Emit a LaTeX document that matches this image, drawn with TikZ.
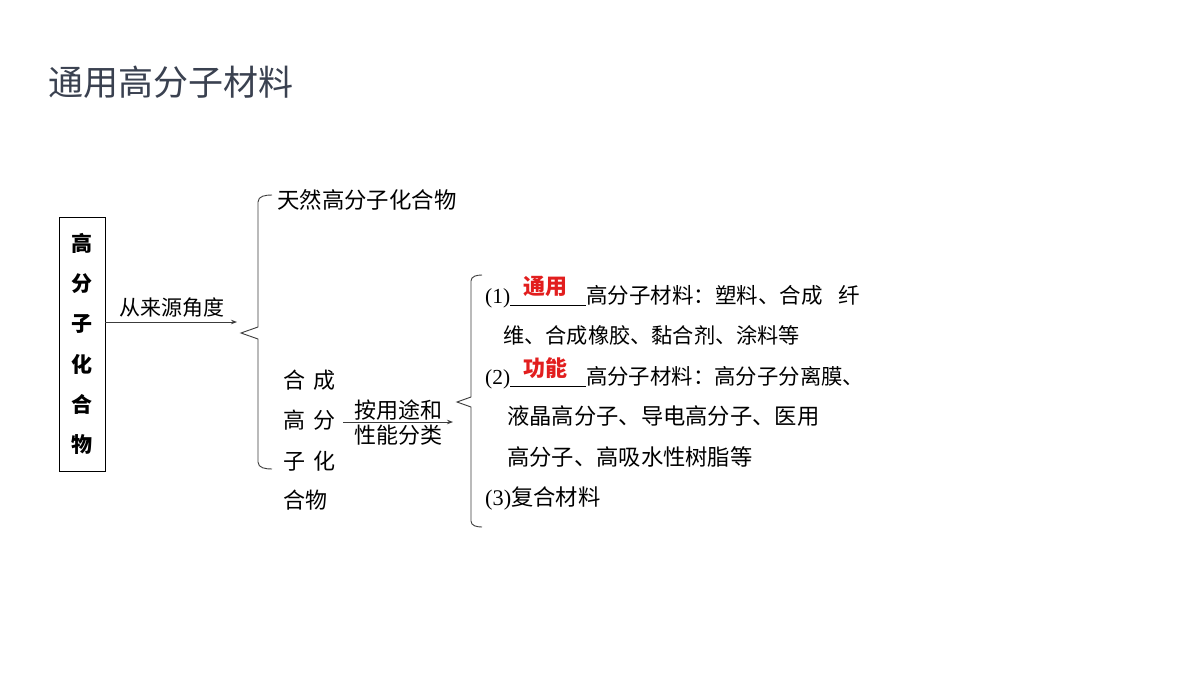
\documentclass[tikz,border=0pt]{standalone}
\usepackage{fontspec}
\setmainfont{Noto Sans CJK SC}
\newfontfamily\ser{Liberation Serif}
\usetikzlibrary{arrows.meta}
\definecolor{titlec}{RGB}{58,65,80}
\definecolor{linec}{RGB}{60,60,60}
\definecolor{redc}{RGB}{226,30,30}
\tikzset{
  txt/.style={anchor=base west, inner sep=0pt, font=\fontsize{22}{22}\selectfont, text=black},
  lbl/.style={inner sep=0pt, font=\fontsize{21}{21}\selectfont, text=black},
  ans/.style={inner sep=0pt, font=\fontsize{22}{22}\selectfont\bfseries, text=redc},
  conn/.style={draw=linec, line width=0.9pt, -{Stealth[length=6pt,width=4.5pt]}},
  brace/.style={draw=linec, line width=0.9pt, line join=miter}
}
\newcommand{\blankline}{\rule[-2.5pt]{76pt}{0.8pt}}
\newcommand{\fs}[1]{\fontsize{#1}{#1}\selectfont}
\begin{document}
\begin{tikzpicture}[x=1pt,y=-1pt]
\useasboundingbox[fill=white] (0,0) rectangle (1200,675);
% title
\node[anchor=base west, inner sep=0pt, font=\fontsize{35}{35}\selectfont, text=titlec] (title) at (48,95) {通用高分子材料};
% box
\node[draw=black, line width=0.9pt, minimum width=46pt, minimum height=254pt, inner sep=0pt, align=center,
      font=\fontsize{21}{40.2}\selectfont\bfseries] (box) at (82,344) {高\\分\\子\\化\\合\\物};
% arrow 1
\coordinate (a1end) at (237,322);
\draw[conn] (box.east |- a1end) -- (a1end);
\node[lbl] (lab1) at (172,308) {从来源角度};
% brace 1
\coordinate (b1top) at (272,195);
\coordinate (b1tip) at (241,333);
\coordinate (b1bot) at (272,469);
\draw[brace] (b1top) to[out=180,in=90] (258,202) -- (258,327) -- (b1tip) -- (258,339) -- (258,462) to[out=270,in=180] (b1bot);
\node[txt, font=\fs{22.4}] (nat) at (277,208) {天然高分子化合物};
\node[txt] (syn1) at (283,388) {合\hspace{8pt}成};
\node[txt] (syn2) at (283,428) {高\hspace{8pt}分};
\node[txt] (syn3) at (283,469) {子\hspace{8pt}化};
\node[txt] (syn4) at (283,508) {合物};
% arrow 2
\coordinate (a2start) at (343,422);
\coordinate (a2end) at (453,422);
\draw[conn] (a2start) -- (a2end);
\node[lbl, font=\fs{22}] (lab2a) at (398,410) {按用途和};
\node[lbl, font=\fs{22}] (lab2b) at (398,435) {性能分类};
% brace 2
\coordinate (b2top) at (482,275);
\coordinate (b2tip) at (457,402);
\coordinate (b2bot) at (482,527);
\draw[brace] (b2top) to[out=180,in=90] (471,281) -- (471,397) -- (b2tip) -- (471,407) -- (471,521) to[out=270,in=180] (b2bot);
% items
\node[txt, font=\fs{21.5}] (l1) at (485,303) {{\ser(1)}\blankline 高分子材料：塑料、合成\hspace{16pt}纤};
\node[ans] (ans1) at (545,286) {通用};
\node[txt, font=\fs{21.2}] (l2) at (503,343) {维、合成橡胶、黏合剂、涂料等};
\node[txt, font=\fs{21.4}] (l3) at (485,384) {{\ser(2)}\blankline 高分子材料：高分子分离膜、};
\node[ans] (ans2) at (545,368) {功能};
\node[txt, font=\fs{22.3}] (l4) at (507,424) {液晶高分子、导电高分子、医用};
\node[txt, font=\fs{22.3}] (l5) at (507,465) {高分子、高吸水性树脂等};
\node[txt, font=\fs{22.3}] (l6) at (485,505) {{\ser(3)}复合材料};
\end{tikzpicture}
\end{document}
